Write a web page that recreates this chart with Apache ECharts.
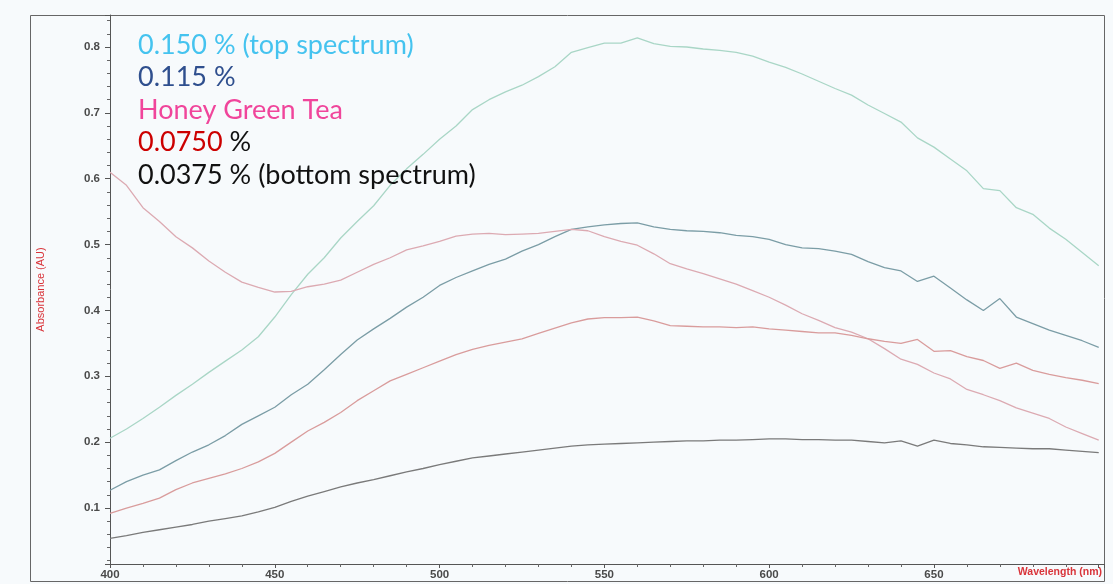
<!DOCTYPE html>
<html>
<head>
<meta charset="utf-8">
<title>Absorbance spectra</title>
<script src="https://cdn.jsdelivr.net/npm/echarts@6/dist/echarts.min.js"></script>
<style>
  html, body { margin: 0; padding: 0; background: #f7fafc; }
  #chart { width: 1113px; height: 584px; }
</style>
</head>
<body>
<div id="chart"></div>
<script>
// Wavelength grid (nm)
const wavelengths = [
  400, 405, 410, 415, 420, 425, 430, 435, 440, 445,
  450, 455, 460, 465, 470, 475, 480, 485, 490, 495,
  500, 505, 510, 515, 520, 525, 530, 535, 540, 545,
  550, 555, 560, 565, 570, 575, 580, 585, 590, 595,
  600, 605, 610, 615, 620, 625, 630, 635, 640, 645,
  650, 655, 660, 665, 670, 675, 680, 685, 690, 695,
  700
];

// Absorbance (AU) for each sample
const conc0150 = [
  0.206, 0.220, 0.236, 0.253, 0.271, 0.288, 0.306, 0.323, 0.340, 0.360,
  0.390, 0.424, 0.455, 0.480, 0.510, 0.535, 0.559, 0.590, 0.615, 0.637,
  0.660, 0.680, 0.705, 0.720, 0.732, 0.742, 0.755, 0.770, 0.792, 0.799,
  0.806, 0.806, 0.814, 0.805, 0.801, 0.800, 0.797, 0.795, 0.792, 0.786,
  0.777, 0.769, 0.759, 0.748, 0.737, 0.727, 0.712, 0.699, 0.686, 0.662,
  0.648, 0.630, 0.612, 0.585, 0.582, 0.556, 0.546, 0.525, 0.508, 0.488,
  0.468
];
const conc0115 = [
  0.127, 0.140, 0.150, 0.158, 0.172, 0.185, 0.196, 0.210, 0.227, 0.240,
  0.253, 0.272, 0.288, 0.310, 0.333, 0.355, 0.372, 0.388, 0.405, 0.420,
  0.438, 0.450, 0.460, 0.470, 0.478, 0.490, 0.500, 0.512, 0.523, 0.527,
  0.530, 0.532, 0.533, 0.527, 0.523, 0.521, 0.520, 0.518, 0.514, 0.512,
  0.508, 0.500, 0.495, 0.494, 0.490, 0.485, 0.474, 0.465, 0.460, 0.444,
  0.452, 0.434, 0.416, 0.400, 0.418, 0.390, 0.380, 0.370, 0.362, 0.354,
  0.344
];
const honeyGreenTea = [
  0.610, 0.590, 0.556, 0.535, 0.512, 0.495, 0.475, 0.458, 0.443, 0.435,
  0.428, 0.429, 0.436, 0.440, 0.446, 0.458, 0.470, 0.480, 0.492, 0.498,
  0.505, 0.513, 0.516, 0.517, 0.515, 0.516, 0.517, 0.520, 0.523, 0.521,
  0.512, 0.505, 0.499, 0.486, 0.471, 0.463, 0.456, 0.448, 0.440, 0.430,
  0.420, 0.408, 0.395, 0.385, 0.374, 0.367, 0.357, 0.342, 0.326, 0.318,
  0.305, 0.296, 0.280, 0.272, 0.263, 0.252, 0.244, 0.236, 0.223, 0.213,
  0.203
];
const conc0075 = [
  0.092, 0.100, 0.107, 0.115, 0.128, 0.138, 0.145, 0.152, 0.160, 0.170,
  0.183, 0.200, 0.217, 0.230, 0.245, 0.263, 0.278, 0.293, 0.303, 0.313,
  0.323, 0.333, 0.341, 0.347, 0.352, 0.357, 0.365, 0.373, 0.381, 0.387,
  0.389, 0.389, 0.390, 0.384, 0.377, 0.376, 0.375, 0.375, 0.374, 0.375,
  0.372, 0.370, 0.368, 0.366, 0.366, 0.362, 0.357, 0.353, 0.350, 0.356,
  0.338, 0.339, 0.330, 0.324, 0.312, 0.320, 0.309, 0.303, 0.298, 0.294,
  0.289
];
const conc00375 = [
  0.054, 0.058, 0.063, 0.067, 0.071, 0.075, 0.080, 0.084, 0.088, 0.094,
  0.101, 0.110, 0.118, 0.125, 0.132, 0.138, 0.143, 0.149, 0.155, 0.160,
  0.166, 0.171, 0.176, 0.179, 0.182, 0.185, 0.188, 0.191, 0.194, 0.196,
  0.197, 0.198, 0.199, 0.200, 0.201, 0.202, 0.202, 0.203, 0.203, 0.204,
  0.205, 0.205, 0.204, 0.204, 0.203, 0.203, 0.201, 0.199, 0.202, 0.194,
  0.203, 0.198, 0.196, 0.193, 0.192, 0.191, 0.190, 0.190, 0.188, 0.186,
  0.184
];

const seriesDefs = [
  { name: '0.150 %', values: conc0150, color: '#a9d6c6' },
  { name: '0.115 %', values: conc0115, color: '#7b9da6' },
  { name: 'Honey Green Tea', values: honeyGreenTea, color: '#dcaab2' },
  { name: '0.0750 %', values: conc0075, color: '#d99c9c' },
  { name: '0.0375 %', values: conc00375, color: '#7a7a7a' }
];

const tickFont = { fontFamily: 'Liberation Sans', fontWeight: 'bold', fontSize: 11.5, color: '#4a4a4a' };
const noteFont = { fontFamily: 'Lato', fontWeight: 'normal', fontSize: 27, lineHeight: 32.5 };

const chart = echarts.init(document.getElementById('chart'), null, { renderer: 'canvas' });

chart.setOption({
  backgroundColor: '#f7fafc',
  animation: false,
  title: {
    left: 138,
    top: 29,
    padding: 0,
    text: '{a|0.150 % (top spectrum)}\n{b|0.115 %}\n{c|Honey Green Tea}\n{d|0.0750}{e| %}\n{e|0.0375 % (bottom spectrum)}',
    textStyle: {
      fontWeight: 'normal',
      rich: {
        a: Object.assign({ color: '#45c3ef' }, noteFont),
        b: Object.assign({ color: '#2f4f8e' }, noteFont),
        c: Object.assign({ color: '#f0459b' }, noteFont),
        d: Object.assign({ color: '#cc0000' }, noteFont),
        e: Object.assign({ color: '#111111' }, noteFont)
      }
    }
  },
  graphic: [
    {
      type: 'rect',
      silent: true,
      shape: { x: 30.5, y: 15.5, width: 1074, height: 566 },
      style: { fill: 'none', stroke: '#666666', lineWidth: 1 }
    }
  ],
  grid: { left: 110, right: 9, top: 15, bottom: 20, containLabel: false, outerBoundsMode: 'none' },
  xAxis: {
    type: 'value',
    min: 400,
    max: 701.6,
    interval: 50,
    name: 'Wavelength (nm)',
    nameLocation: 'end',
    nameGap: -2,
    nameTextStyle: {
      color: '#d9343a', fontFamily: 'Liberation Sans', fontWeight: 'bold', fontSize: 10.5,
      align: 'right', verticalAlign: 'top', padding: [3, 0, 0, 0]
    },
    axisLine: { show: true, lineStyle: { color: '#555555', width: 1 } },
    axisTick: { show: true, length: 4, lineStyle: { color: '#555555' } },
    minorTick: { show: true, splitNumber: 5, length: 3, lineStyle: { color: '#666666' } },
    splitLine: { show: false },
    axisLabel: Object.assign({
      margin: 5, showMaxLabel: false,
      formatter: v => (v >= 700 ? '' : String(v))
    }, tickFont)
  },
  yAxis: {
    type: 'value',
    min: 0.015,
    max: 0.8486,
    splitNumber: 8,
    name: 'Absorbance (AU)',
    nameLocation: 'middle',
    nameRotate: 90,
    nameGap: 64,
    nameTextStyle: { color: '#d9343a', fontFamily: 'Liberation Sans', fontSize: 11 },
    axisLine: { show: true, lineStyle: { color: '#555555', width: 1 } },
    axisTick: { show: true, length: 5, lineStyle: { color: '#555555' } },
    minorTick: { show: true, splitNumber: 5, length: 3, lineStyle: { color: '#666666' } },
    splitLine: { show: false },
    axisLabel: Object.assign({ margin: 10, showMinLabel: false, showMaxLabel: false, formatter: v => v.toFixed(1) }, tickFont)
  },
  series: seriesDefs.map(s => ({
    type: 'line',
    name: s.name,
    data: wavelengths.map((w, i) => [w, s.values[i]]),
    showSymbol: false,
    smooth: false,
    lineStyle: { color: s.color, width: 1.3 },
    itemStyle: { color: s.color }
  }))
});
</script>
</body>
</html>
